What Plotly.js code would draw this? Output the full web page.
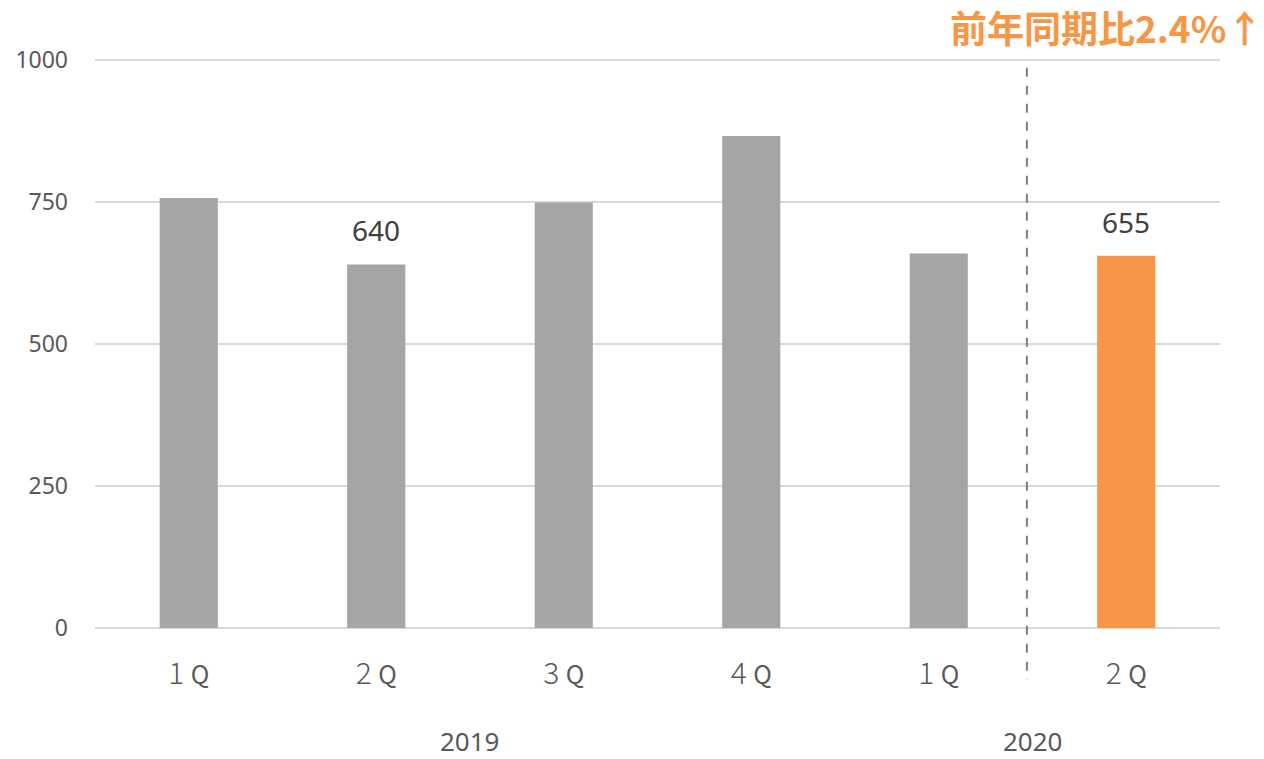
<!DOCTYPE html>
<html>
<head>
<meta charset="utf-8">
<script src="https://cdn.plot.ly/plotly-3.0.1.min.js"></script>
<style>html,body{margin:0;padding:0;background:#fff;}#chart{width:1264px;height:759px;}</style>
</head>
<body>
<div id="chart"></div>
<script>
const categories = ["2019-1Q", "2019-2Q", "2019-3Q", "2019-4Q", "2020-1Q", "2020-2Q"];
const quarterDigits = ["1", "2", "3", "4", "1", "2"];
const values = [757, 640, 749, 866, 659, 655];
const labeled = [false, true, false, false, false, true];
const years = ["2019", "2020"];
const yearCenters = [1.5, 4.5];
const yTicks = [0, 250, 500, 750, 1000];
const titleText = "前年同期比2.4%↑";

const barColors = values.map((v, i) => i === values.length - 1 ? "#F79646" : "#A5A5A5");
const tickText = quarterDigits.map(d => d + " <span style='font-size:25px;font-weight:400'>Q</span>");

const trace = {
  type: "bar",
  x: categories,
  y: values,
  marker: {color: barColors},
  hoverinfo: "skip"
};

const annotations = [];
values.forEach((v, i) => {
  if (labeled[i]) {
    annotations.push({x: categories[i], y: v, xref: "x", yref: "y", text: String(v),
      showarrow: false, yanchor: "bottom", yshift: 13,
      font: {size: 28, color: "#404040", family: "Noto Sans, Open Sans, sans-serif"}});
  }
});
years.forEach((yr, i) => {
  annotations.push({x: yearCenters[i], y: 0, xref: "x", yref: "paper", text: yr,
    showarrow: false, yanchor: "middle", yshift: -113, borderpad: 0,
    font: {size: 26, color: "#595959", family: "Noto Sans, Open Sans, sans-serif"}});
});
annotations.push({x: 1, y: 1, xref: "paper", yref: "paper", text: "<b>" + titleText + "</b>",
  showarrow: false, xanchor: "right", yanchor: "middle", xshift: 44, yshift: 30, borderpad: 0,
  font: {size: 37, color: "#F79646", family: "Noto Sans CJK JP, Noto Sans, sans-serif"}});

const layout = {
  width: 1264, height: 759,
  margin: {l: 95, r: 44, t: 57, b: 131},
  paper_bgcolor: "#ffffff", plot_bgcolor: "#ffffff",
  showlegend: false,
  bargap: 0.69,
  xaxis: {
    type: "category",
    tickvals: categories, ticktext: tickText,
    tickfont: {size: 30, color: "#595959", family: "Noto Sans CJK JP, Noto Sans, sans-serif", weight: 300},
    showgrid: false, zeroline: false, showline: false, ticks: "",
    ticklabelstandoff: 25
  },
  yaxis: {
    range: [0, 1005], tickvals: yTicks, ticktext: yTicks.map(String),
    tickfont: {size: 23, color: "#595959", family: "Noto Sans, Open Sans, sans-serif"},
    showgrid: true, gridcolor: "#D9D9D9", gridwidth: 2,
    zeroline: true, zerolinecolor: "#D9D9D9", zerolinewidth: 2,
    showline: false, ticks: "", ticklabelstandoff: 26
  },
  shapes: [{type: "line", xref: "x", yref: "paper", x0: 4.47, x1: 4.47, y0: 0.981, y1: -0.091,
    line: {color: "#7F7F7F", width: 2, dash: "dash"}}],
  annotations: annotations
};

Plotly.newPlot("chart", [trace], layout, {displayModeBar: false, staticPlot: true});
</script>
</body>
</html>
